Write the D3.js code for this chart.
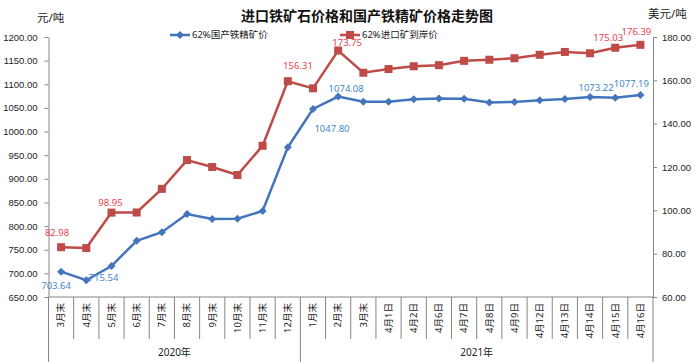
<!DOCTYPE html>
<html>
<head>
<meta charset="utf-8">
<script src="https://cdn.jsdelivr.net/npm/d3@7/dist/d3.min.js"></script>
<style>
  body { margin: 0; background: #fff; }
  svg { display: block; font-family: "Noto Sans", "Noto Sans CJK SC", sans-serif; }
  .axis text { fill: #222; font-size: 9.5px; }
  .axis path, .axis line { stroke: #868686; }
</style>
</head>
<body>
<svg id="chart" width="698" height="362"></svg>
<script>
const categories = [
  "3月末", "4月末", "5月末", "6月末", "7月末", "8月末", "9月末", "10月末", "11月末", "12月末",
  "1月末", "2月末", "3月末", "4月1日", "4月2日", "4月6日", "4月7日", "4月8日", "4月9日",
  "4月12日", "4月13日", "4月14日", "4月15日", "4月16日"
];
const years = [
  { name: "2020年", from: 0, to: 9 },
  { name: "2021年", from: 10, to: 23 }
];

// 62%国产铁精矿价 (元/吨, left axis)
const domestic = [703.64, 685.5, 715.54, 769, 787, 825.5, 815, 815.5, 832, 966.7,
  1047.80, 1074.08, 1063.2, 1063, 1068.5, 1069.8, 1069.5, 1061.5, 1062.5,
  1066, 1069, 1073.22, 1071.5, 1077.19];
// 62%进口矿到岸价 (美元/吨, right axis)
const imported = [82.98, 82.6, 98.95, 99.0, 109.9, 123.2, 120.0, 116.3, 129.8, 159.6,
  156.31, 173.75, 163.5, 165.2, 166.5, 167.0, 169.0, 169.5, 170.2,
  171.8, 173.1, 172.5, 175.03, 176.39];

const leftTicks = d3.range(650, 1201, 50);
const rightTicks = d3.range(60, 181, 20);

// which points carry a value label, and where the label sits
const domesticLabels = [
  { i: 0, dx: -5, dy: 14 }, { i: 2, dx: -8, dy: 12 }, { i: 10, dx: 19, dy: 20 },
  { i: 11, dx: 8, dy: -8 }, { i: 21, dx: 6, dy: -9 }, { i: 23, dx: -9, dy: -11 }
];
const importedLabels = [
  { i: 0, dx: -4, dy: -15 }, { i: 2, dx: -1, dy: -10 }, { i: 10, dx: -15, dy: -23 },
  { i: 11, dx: 9, dy: -8 }, { i: 22, dx: -7, dy: -10 }, { i: 23, dx: -4, dy: -13 }
];

const blue = "#4375BD", red = "#BE4B48";
const blueText = "#3F88CC", redText = "#E8404A";

const svg = d3.select("#chart");
const plot = { left: 48.5, right: 653, top: 37, bottom: 297 };

const x = d3.scaleBand().domain(d3.range(categories.length)).range([plot.left, plot.right]);
const cx = i => x(i) + x.bandwidth() / 2;
const yL = d3.scaleLinear().domain([650, 1200]).range([plot.bottom, plot.top]);
const yR = d3.scaleLinear().domain([60, 180]).range([plot.bottom, plot.top]);

// title and units
svg.append("text").attr("x", 367).attr("y", 21).attr("text-anchor", "middle")
  .style("font-size", "14px").style("font-weight", "bold").attr("fill", "#111")
  .text("进口铁矿石价格和国产铁精矿价格走势图");
svg.append("text").attr("x", 37).attr("y", 22).style("font-size", "11.5px").attr("fill", "#222").text("元/吨");
svg.append("text").attr("x", 648).attr("y", 18).style("font-size", "11.5px").attr("fill", "#222").text("美元/吨");

// y axes
svg.append("g").attr("class", "axis").attr("transform", `translate(${plot.left},0)`)
  .call(d3.axisLeft(yL).tickValues(leftTicks).tickFormat(d3.format(".2f")).tickSize(4).tickSizeOuter(0).tickPadding(7));
svg.append("g").attr("class", "axis").attr("transform", `translate(${plot.right},0)`)
  .call(d3.axisRight(yR).tickValues(rightTicks).tickFormat(d3.format(".2f")).tickSize(4).tickSizeOuter(0).tickPadding(5));

// category axis (two levels)
const xa = svg.append("g").attr("class", "axis");
xa.append("line").attr("x1", plot.left).attr("x2", plot.right).attr("y1", plot.bottom).attr("y2", plot.bottom);
const groupEdges = new Set([0, 10, categories.length]);
d3.range(categories.length + 1).forEach(i => {
  const px = i < categories.length ? x(i) : plot.right;
  xa.append("line").attr("x1", px).attr("x2", px).attr("y1", plot.bottom)
    .attr("y2", groupEdges.has(i) ? 362 : 339);
});
xa.selectAll("text.cat").data(categories).join("text").attr("class", "cat")
  .attr("transform", (d, i) => `translate(${cx(i)},303) rotate(-90)`)
  .attr("text-anchor", "end").attr("dy", "0.35em").style("font-size", "9.5px").text(d => d);
xa.selectAll("text.year").data(years).join("text").attr("class", "year")
  .attr("x", d => (x(d.from) + x(d.to) + x.bandwidth()) / 2).attr("y", 356)
  .attr("text-anchor", "middle").style("font-size", "10px").text(d => d.name);

// lines
const lineL = d3.line().x((d, i) => cx(i)).y(d => yL(d));
const lineR = d3.line().x((d, i) => cx(i)).y(d => yR(d));
svg.append("path").datum(domestic).attr("d", lineL).attr("fill", "none").attr("stroke", blue).attr("stroke-width", 2.5);
svg.append("path").datum(imported).attr("d", lineR).attr("fill", "none").attr("stroke", red).attr("stroke-width", 2.5);

const diamond = "M0,-4L4,0L0,4L-4,0Z";
svg.append("g").selectAll("path").data(domestic).join("path")
  .attr("d", diamond).attr("transform", (d, i) => `translate(${cx(i)},${yL(d)})`).attr("fill", blue);
svg.append("g").selectAll("rect").data(imported).join("rect")
  .attr("x", (d, i) => cx(i) - 4).attr("y", d => yR(d) - 4).attr("width", 8).attr("height", 8).attr("fill", red);

// value labels
svg.append("g").selectAll("text").data(domesticLabels).join("text")
  .attr("x", d => cx(d.i) + d.dx).attr("y", d => yL(domestic[d.i]) + d.dy).attr("dy", "0.35em")
  .attr("text-anchor", "middle").style("font-size", "9.5px").attr("fill", blueText)
  .text(d => domestic[d.i].toFixed(2));
svg.append("g").selectAll("text").data(importedLabels).join("text")
  .attr("x", d => cx(d.i) + d.dx).attr("y", d => yR(imported[d.i]) + d.dy).attr("dy", "0.35em")
  .attr("text-anchor", "middle").style("font-size", "9.5px").attr("fill", redText)
  .text(d => imported[d.i].toFixed(2));

// legend
const legend = [
  { name: "62%国产铁精矿价", color: blue, x: 170, shape: "diamond" },
  { name: "62%进口矿到岸价", color: red, x: 340, shape: "square" }
];
legend.forEach(l => {
  const g = svg.append("g").attr("transform", `translate(${l.x},35)`);
  g.append("line").attr("x1", 0).attr("x2", 20).attr("stroke", l.color).attr("stroke-width", 2.5);
  if (l.shape === "diamond") g.append("path").attr("d", diamond).attr("transform", "translate(10,0)").attr("fill", l.color);
  else g.append("rect").attr("x", 6).attr("y", -4).attr("width", 8).attr("height", 8).attr("fill", l.color);
  g.append("text").attr("x", 22).attr("dy", "0.35em").style("font-size", "9.5px").attr("fill", "#222").text(l.name);
});
</script>
</body>
</html>
